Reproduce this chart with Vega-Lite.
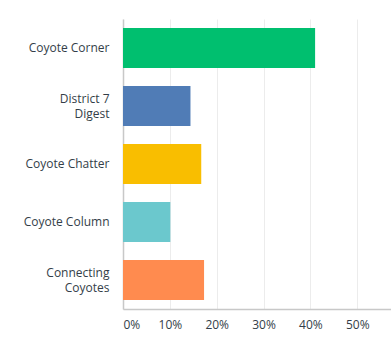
{
  "$schema": "https://vega.github.io/schema/vega-lite/v6.json",
  "autosize": "none",
  "width": 268,
  "height": 290,
  "padding": {"left": 123, "top": 19, "right": 0, "bottom": 42},
  "background": "white",
  "config": {"view": {"stroke": null}, "font": "Open Sans"},
  "data": {"values": [
    {"option": "Coyote Corner", "pct": 0.410},
    {"option": "District 7 Digest", "pct": 0.144},
    {"option": "Coyote Chatter", "pct": 0.167},
    {"option": "Coyote Column", "pct": 0.101},
    {"option": "Connecting Coyotes", "pct": 0.173}
  ]},
  "mark": {"type": "bar"},
  "encoding": {
    "y": {
      "field": "option", "type": "nominal", "sort": null,
      "scale": {"paddingInner": 0.31, "paddingOuter": 0.155},
      "axis": {
        "title": null, "ticks": false, "labelPadding": 14, "labelFontSize": 12,
        "labelColor": "#333e48", "domainColor": "#c8c8c8", "domainWidth": 1.5,
        "labelLineHeight": 15, "labelLimit": 200,
        "labelOffset": {"condition": {"test": "datum.value == 'District 7 Digest' || datum.value == 'Connecting Coyotes'", "value": -7}, "value": 0},
        "labelExpr": "datum.value == 'District 7 Digest' ? ['District 7', 'Digest'] : datum.value == 'Connecting Coyotes' ? ['Connecting', 'Coyotes'] : datum.value"
      }
    },
    "x": {
      "field": "pct", "type": "quantitative",
      "scale": {"domain": [0, 0.572], "nice": false},
      "axis": {
        "title": null, "format": ".0%", "values": [0, 0.1, 0.2, 0.3, 0.4, 0.5],
        "ticks": false, "labelPadding": 10, "labelFontSize": 12, "labelColor": "#333e48",
        "domainColor": "#c8c8c8", "domainWidth": 1.5, "gridColor": "#ececec", "gridWidth": 1
      }
    },
    "color": {
      "field": "option", "type": "nominal", "legend": null,
      "scale": {
        "domain": ["Coyote Corner", "District 7 Digest", "Coyote Chatter", "Coyote Column", "Connecting Coyotes"],
        "range": ["#00bf6f", "#507cb6", "#f9be00", "#6bc8cd", "#ff8b4f"]
      }
    }
  }
}
